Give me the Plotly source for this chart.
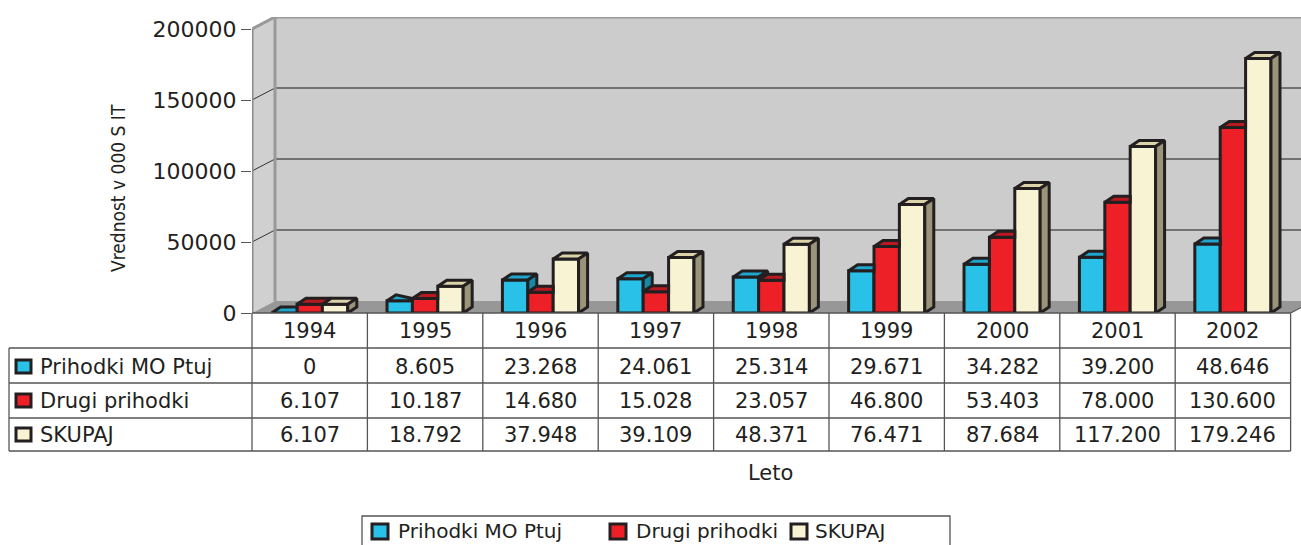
import plotly.graph_objects as go

# ---------------- data ----------------
years = ["1994", "1995", "1996", "1997", "1998", "1999", "2000", "2001", "2002"]
prihodki_mo_ptuj = [0, 8605, 23268, 24061, 25314, 29671, 34282, 39200, 48646]
drugi_prihodki = [6107, 10187, 14680, 15028, 23057, 46800, 53403, 78000, 130600]
skupaj = [6107, 18792, 37948, 39109, 48371, 76471, 87684, 117200, 179246]
series_names = ["Prihodki MO Ptuj", "Drugi prihodki", "SKUPAJ"]
y_ticks = [0, 50000, 100000, 150000, 200000]
x_title = "Leto"
y_title = "Vrednost v 000 S IT"

series_values = [prihodki_mo_ptuj, drugi_prihodki, skupaj]
front_colors = ["#29C1E8", "#ED2027", "#F8F3D3"]
top_colors = ["#1FA6CE", "#B81A20", "#DCD3A9"]
side_colors = ["#1589A8", "#961419", "#9A9478"]

# ---------------- geometry ----------------
OFF = 0                      # body margin removed by post_script
W, H = 1301 - OFF, 545 - OFF
PLOT_LEFT, PLOT_TOP, PLOT_BOTTOM = 252, 17, 313   # page pixels
L, T = PLOT_LEFT - OFF, PLOT_TOP - OFF
B = H - (PLOT_BOTTOM - OFF)
R = 0
PW, PH = W - L - R, H - T - B
COLW = 115.4
XMAX = PW / COLW
YPX = 284 / 200000.0
YMAX = PH / YPX
DX, DY = 23 / COLW, 12 / YPX          # wall depth
BDX, BDY = 9 / COLW, 6 / YPX          # bar depth
BW = 0.22
FONT = "DejaVu Sans"
TXT = "#231F20"
LINE = "#555555"
OUT = "#231F20"

def xp(x):  # data x -> paper
    return x / XMAX

def pxp(px):  # page pixel x -> paper
    return (px - PLOT_LEFT) / PW

def pyp(py):  # page pixel y -> paper
    return (PLOT_BOTTOM - py) / PH

fig = go.Figure()

# front faces as bars
for s, (name, vals) in enumerate(zip(series_names, series_values)):
    fig.add_trace(go.Bar(
        x=[i + 0.5 for i in range(len(years))], y=vals, name=name,
        width=BW, offset=-1.5 * BW + s * BW,
        marker=dict(color=front_colors[s], line=dict(color=OUT, width=3)),
        showlegend=False, hoverinfo="skip"))

# 3D top and side faces (derived from the same values)
for s, vals in enumerate(series_values):
    tx, ty, sx, sy = [], [], [], []
    for i, h in enumerate(vals):
        x0 = i + 0.5 - 1.5 * BW + s * BW
        x1 = x0 + BW
        hn = series_values[s + 1][i] if s < 2 else None
        if hn is not None and hn > h:
            top = [(x0, h), (x1, h), (x1, min(hn, h + BDY)), (x0 + BDX, h + BDY), (x0, h)]
        else:
            top = [(x0, h), (x1, h), (x1 + BDX, h + BDY), (x0 + BDX, h + BDY), (x0, h)]
        for a, b in top:
            tx.append(a); ty.append(b)
        tx.append(None); ty.append(None)
        if hn is None:
            side = [(x1, 0), (x1, h), (x1 + BDX, h + BDY), (x1 + BDX, BDY), (x1, 0)]
        elif h > hn:
            side = [(x1, hn), (x1, h), (x1 + BDX, h + BDY), (x1 + BDX, hn + BDY), (x1, hn)]
        else:
            side = []
        for a, b in side:
            sx.append(a); sy.append(b)
        if side:
            sx.append(None); sy.append(None)
    fig.add_trace(go.Scatter(x=tx, y=ty, mode="lines", fill="toself",
                             fillcolor=top_colors[s], line=dict(color=OUT, width=3),
                             showlegend=False, hoverinfo="skip"))
    if sx:
        fig.add_trace(go.Scatter(x=sx, y=sy, mode="lines", fill="toself",
                                 fillcolor=side_colors[s], line=dict(color=OUT, width=3),
                                 showlegend=False, hoverinfo="skip"))

shapes = []
# back wall
shapes.append(dict(type="rect", xref="x", yref="y", x0=DX, x1=XMAX + 1, y0=DY, y1=200000 + DY,
                   fillcolor="#CCCCCC", line=dict(width=0), layer="below"))
# left wall
shapes.append(dict(type="path", xref="x", yref="y",
                   path=f"M0,0 L0,200000 L{DX},{200000 + DY} L{DX},{DY} Z",
                   fillcolor="#D0D0D0", line=dict(width=0), layer="below"))
# floor
shapes.append(dict(type="path", xref="x", yref="y",
                   path=f"M0,0 L9,0 L{9 + DX},{DY} L{DX},{DY} Z",
                   fillcolor="#979797", line=dict(width=0), layer="below"))
# gridlines and diagonal ticks
for v in y_ticks[1:-1]:
    shapes.append(dict(type="line", xref="x", yref="y", x0=DX, x1=XMAX + 1, y0=v + DY, y1=v + DY,
                       line=dict(color="#555555", width=1.5), layer="below"))
    shapes.append(dict(type="line", xref="x", yref="y", x0=0, x1=DX, y0=v, y1=v + DY,
                       line=dict(color="#333333", width=1), layer="below"))
# wall edges
shapes.append(dict(type="line", xref="x", yref="y", x0=DX, x1=XMAX + 1, y0=200000 + DY, y1=200000 + DY,
                   line=dict(color="#999999", width=3), layer="below"))
shapes.append(dict(type="line", xref="x", yref="y", x0=0, x1=DX, y0=200000, y1=200000 + DY,
                   line=dict(color="#999999", width=3), layer="below"))
shapes.append(dict(type="line", xref="x", yref="y", x0=DX, x1=DX, y0=DY, y1=200000 + DY,
                   line=dict(color="#999999", width=3), layer="below"))
shapes.append(dict(type="line", xref="x", yref="y", x0=0, x1=0, y0=0, y1=200000,
                   line=dict(color="#8A8A8A", width=3), layer="below"))
shapes.append(dict(type="line", xref="x", yref="y", x0=9, x1=9 + DX, y0=0, y1=DY,
                   line=dict(color=LINE, width=1.2), layer="below"))

# data table lines
shapes.append(dict(type="line", xref="paper", yref="paper", x0=0, x1=xp(9), y0=pyp(313), y1=pyp(313),
                   line=dict(color=LINE, width=1.3)))
for py in [348, 383, 418, 451]:
    shapes.append(dict(type="line", xref="paper", yref="paper", x0=pxp(9), x1=xp(9),
                       y0=pyp(py), y1=pyp(py), line=dict(color=LINE, width=1.3)))
for i in range(len(years) + 1):
    shapes.append(dict(type="line", xref="paper", yref="paper", x0=xp(i), x1=xp(i),
                       y0=pyp(313), y1=pyp(451), line=dict(color=LINE, width=1.3)))
shapes.append(dict(type="line", xref="paper", yref="paper", x0=pxp(9), x1=pxp(9),
                   y0=pyp(348), y1=pyp(451), line=dict(color=LINE, width=1.3)))

annotations = []
def fmt(v):
    return f"{v:,}".replace(",", ".")

TS = 21
for i, yr in enumerate(years):
    annotations.append(dict(x=xp(i + 0.5), y=pyp(331), xref="paper", yref="paper", text=yr,
                            showarrow=False, xanchor="center", yanchor="middle",
                            font=dict(family=FONT, size=TS, color=TXT)))
row_y = [367, 401, 435]
for s, vals in enumerate(series_values):
    for i, v in enumerate(vals):
        annotations.append(dict(x=xp(i + 0.5), y=pyp(row_y[s]), xref="paper", yref="paper",
                                text=fmt(v), showarrow=False, xanchor="center", yanchor="middle",
                                font=dict(family=FONT, size=TS, color=TXT)))
    # row label swatch + text
    shapes.append(dict(type="rect", xref="paper", yref="paper", x0=pxp(16), x1=pxp(31),
                       y0=pyp(row_y[s] + 6), y1=pyp(row_y[s] - 7),
                       fillcolor=front_colors[s], line=dict(color=OUT, width=3)))
    annotations.append(dict(x=pxp(38), y=pyp(row_y[s]), xref="paper", yref="paper",
                            text=series_names[s], showarrow=False, xanchor="left", yanchor="middle",
                            font=dict(family=FONT, size=TS, color=TXT)))

annotations.append(dict(x=pxp(770), y=pyp(473), xref="paper", yref="paper", text=x_title,
                        showarrow=False, xanchor="center", yanchor="middle",
                        font=dict(family=FONT, size=TS, color=TXT)))
annotations.append(dict(x=pxp(118), y=pyp(188), xref="paper", yref="paper", text=y_title,
                        showarrow=False, xanchor="center", yanchor="middle", textangle=-90,
                        font=dict(family="DejaVu Sans Condensed, Liberation Sans, sans-serif",
                                  size=19, color=TXT)))

# bottom legend box
shapes.append(dict(type="rect", xref="paper", yref="paper", x0=pxp(362), x1=pxp(950),
                   y0=pyp(560), y1=pyp(516), line=dict(color=LINE, width=1.3)))
leg_sw = [372, 610, 791]
leg_tx = [396, 634, 813]
for s in range(3):
    shapes.append(dict(type="rect", xref="paper", yref="paper", x0=pxp(leg_sw[s]), x1=pxp(leg_sw[s] + 16),
                       y0=pyp(539), y1=pyp(524),
                       fillcolor=front_colors[s], line=dict(color=OUT, width=3)))
    annotations.append(dict(x=pxp(leg_tx[s]), y=pyp(531), xref="paper", yref="paper",
                            text=series_names[s], showarrow=False, xanchor="left", yanchor="middle",
                            font=dict(family=FONT, size=20, color=TXT)))

fig.update_layout(
    width=W, height=H, margin=dict(l=L, r=R, t=T, b=B),
    paper_bgcolor="white", plot_bgcolor="white",
    barmode="overlay", showlegend=False,
    shapes=shapes, annotations=annotations,
    xaxis=dict(range=[0, XMAX], showgrid=False, zeroline=False, showticklabels=False,
               showline=False, ticks=""),
    yaxis=dict(range=[0, YMAX], tickvals=y_ticks, ticktext=[str(v) for v in y_ticks],
               showgrid=False, zeroline=False, showline=False, ticks="outside", ticklen=10,
               tickcolor="#555555", tickwidth=1.2,
               tickfont=dict(family=FONT, size=22, color=TXT)),
)

fig.write_html("out.html", config={"displayModeBar": False},
               post_script="document.body.style.margin='0';document.body.style.overflow='hidden';")
